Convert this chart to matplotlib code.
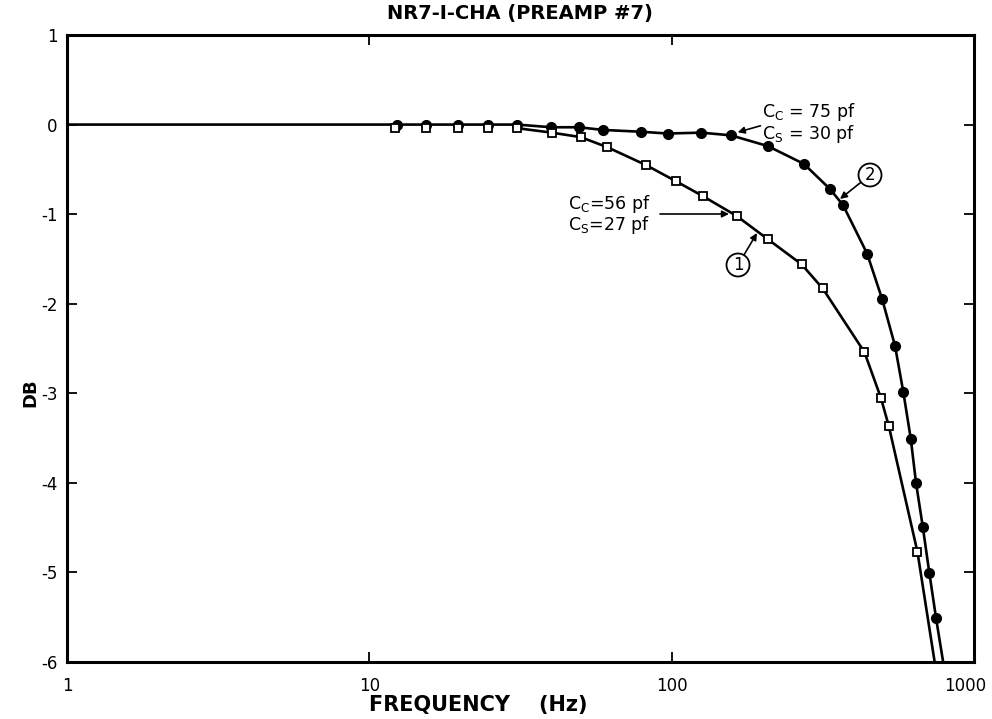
import matplotlib
matplotlib.use("Agg")
import matplotlib.pyplot as plt
from matplotlib.ticker import NullLocator
from matplotlib.transforms import ScaledTranslation

# curve 2 (filled circles), Cc = 75 pf, Cs = 30 pf
freq_2 = [12.3, 15.4, 19.6, 24.7, 30.8, 40, 49.4, 59.3, 79.2, 97, 125, 157,
          208, 274, 334, 369, 443, 497, 548, 584, 618, 643, 677, 712, 749]
db_2 = [0.0, 0.0, 0.0, 0.0, 0.0, -0.03, -0.03, -0.06, -0.08, -0.10, -0.09,
        -0.12, -0.24, -0.44, -0.72, -0.9, -1.44, -1.95, -2.47, -2.99, -3.51,
        -4.0, -4.49, -5.01, -5.51]
# where the drawn line of curve 2 starts / leaves the frame
line2_start = (1, 0.0)
line2_end = (795, -6.05)

# curve 1 (open squares), Cc = 56 pf, Cs = 27 pf
freq_1 = [12.2, 15.4, 19.6, 24.7, 30.8, 40.1, 50, 61, 82, 103, 127, 164,
          208, 269, 316, 434, 492, 523, 650]
db_1 = [-0.04, -0.04, -0.04, -0.04, -0.04, -0.09, -0.14, -0.25, -0.45,
        -0.63, -0.80, -1.02, -1.28, -1.56, -1.83, -2.54, -3.05, -3.37, -4.77]
line1_end = (745, -6.05)

xticks = [1, 10, 100, 1000]
xtick_labels = ['1', '10', '100', '1000']
yticks = [1, 0, -1, -2, -3, -4, -5, -6]

W, H = 992, 719
fig = plt.figure(figsize=(W / 100, H / 100), dpi=100)
ax = fig.add_axes([67 / W, 57 / H, 907 / W, 627 / H])

# curve 2: flat line from 1 Hz, then through the circles
ax.plot([line2_start[0]] + freq_2 + [line2_end[0]],
        [line2_start[1]] + db_2 + [line2_end[1]],
        color='black', lw=1.9, zorder=2)
ax.plot(freq_2, db_2, 'o', color='black', ms=7, zorder=3)

# curve 1 leaves curve 2 at about 30 Hz
ax.plot(freq_1[4:] + [line1_end[0]], db_1[4:] + [line1_end[1]],
        color='black', lw=1.9, zorder=2)
ax.plot(freq_1, db_1, 's', mfc='white', mec='black', mew=1.3, ms=5.5, zorder=3)

ax.set_xscale('log')
ax.set_xlim(1, 1000)
ax.set_ylim(-6, 1)
ax.set_xticks(xticks)
ax.set_xticklabels(xtick_labels)
ax.set_yticks(yticks)
ax.set_yticklabels([str(v) for v in yticks])
ax.xaxis.set_minor_locator(NullLocator())
ax.tick_params(direction='in', length=7, width=1.3, top=True, right=True,
               labelsize=12)
ax.tick_params(axis='x', pad=11)
ax.tick_params(axis='y', pad=7)
for s in ax.spines.values():
    s.set_linewidth(2.2)

# the last x label sits a little left of its tick, inside the picture
last = ax.get_xticklabels()[-1]
last.set_transform(last.get_transform() + ScaledTranslation(-9 / 100, 0, fig.dpi_scale_trans))

# text, positions in figure pixels
def fp(x, y):
    return (x, H - y)

fig.text(520 / W, 1 - 14 / H, 'NR7-I-CHA (PREAMP #7)', ha='center', va='center',
         fontsize=14, fontweight='bold')
fig.text(478 / W, 1 - 705 / H, 'FREQUENCY    (Hz)', ha='center', va='center',
         fontsize=15, fontweight='bold')
fig.text(30 / W, 1 - 393 / H, 'DB', ha='center', va='center', rotation=90,
         fontsize=13, fontweight='bold')

tk = dict(fontsize=12.5, ha='left', va='center')
ax.annotate(r'C$_\mathregular{C}$ = 75 pf', xy=fp(735, 133), xycoords='figure pixels',
            xytext=fp(762, 112), textcoords='figure pixels', **tk,
            arrowprops=dict(arrowstyle='-|>', color='black', lw=1.2,
                            shrinkA=0, shrinkB=2, mutation_scale=10))
ax.annotate(r'C$_\mathregular{S}$ = 30 pf', xy=fp(762, 134), xycoords='figure pixels', **tk)

ax.annotate(r'C$_\mathregular{C}$=56 pf', xy=fp(568, 204), xycoords='figure pixels', **tk)
ax.annotate(r'C$_\mathregular{S}$=27 pf', xy=fp(568, 225), xycoords='figure pixels', **tk)
ax.annotate('', xy=fp(729, 214), xycoords='figure pixels',
            xytext=fp(660, 214), textcoords='figure pixels',
            arrowprops=dict(arrowstyle='-|>', color='black', lw=1.2,
                            shrinkA=0, shrinkB=0, mutation_scale=10))

circ = dict(boxstyle='circle,pad=0.15', fc='white', ec='black', lw=1.3)
ax.annotate('1', xy=fp(757, 233), xycoords='figure pixels',
            xytext=fp(738, 265), textcoords='figure pixels',
            fontsize=12, ha='center', va='center', bbox=circ,
            arrowprops=dict(arrowstyle='-|>', color='black', lw=1.2,
                            shrinkA=0, shrinkB=0, mutation_scale=10))
ax.annotate('2', xy=fp(840, 199), xycoords='figure pixels',
            xytext=fp(870, 175), textcoords='figure pixels',
            fontsize=12, ha='center', va='center', bbox=circ,
            arrowprops=dict(arrowstyle='-|>', color='black', lw=1.2,
                            shrinkA=0, shrinkB=0, mutation_scale=10))

fig.savefig('out.png', dpi=100)
